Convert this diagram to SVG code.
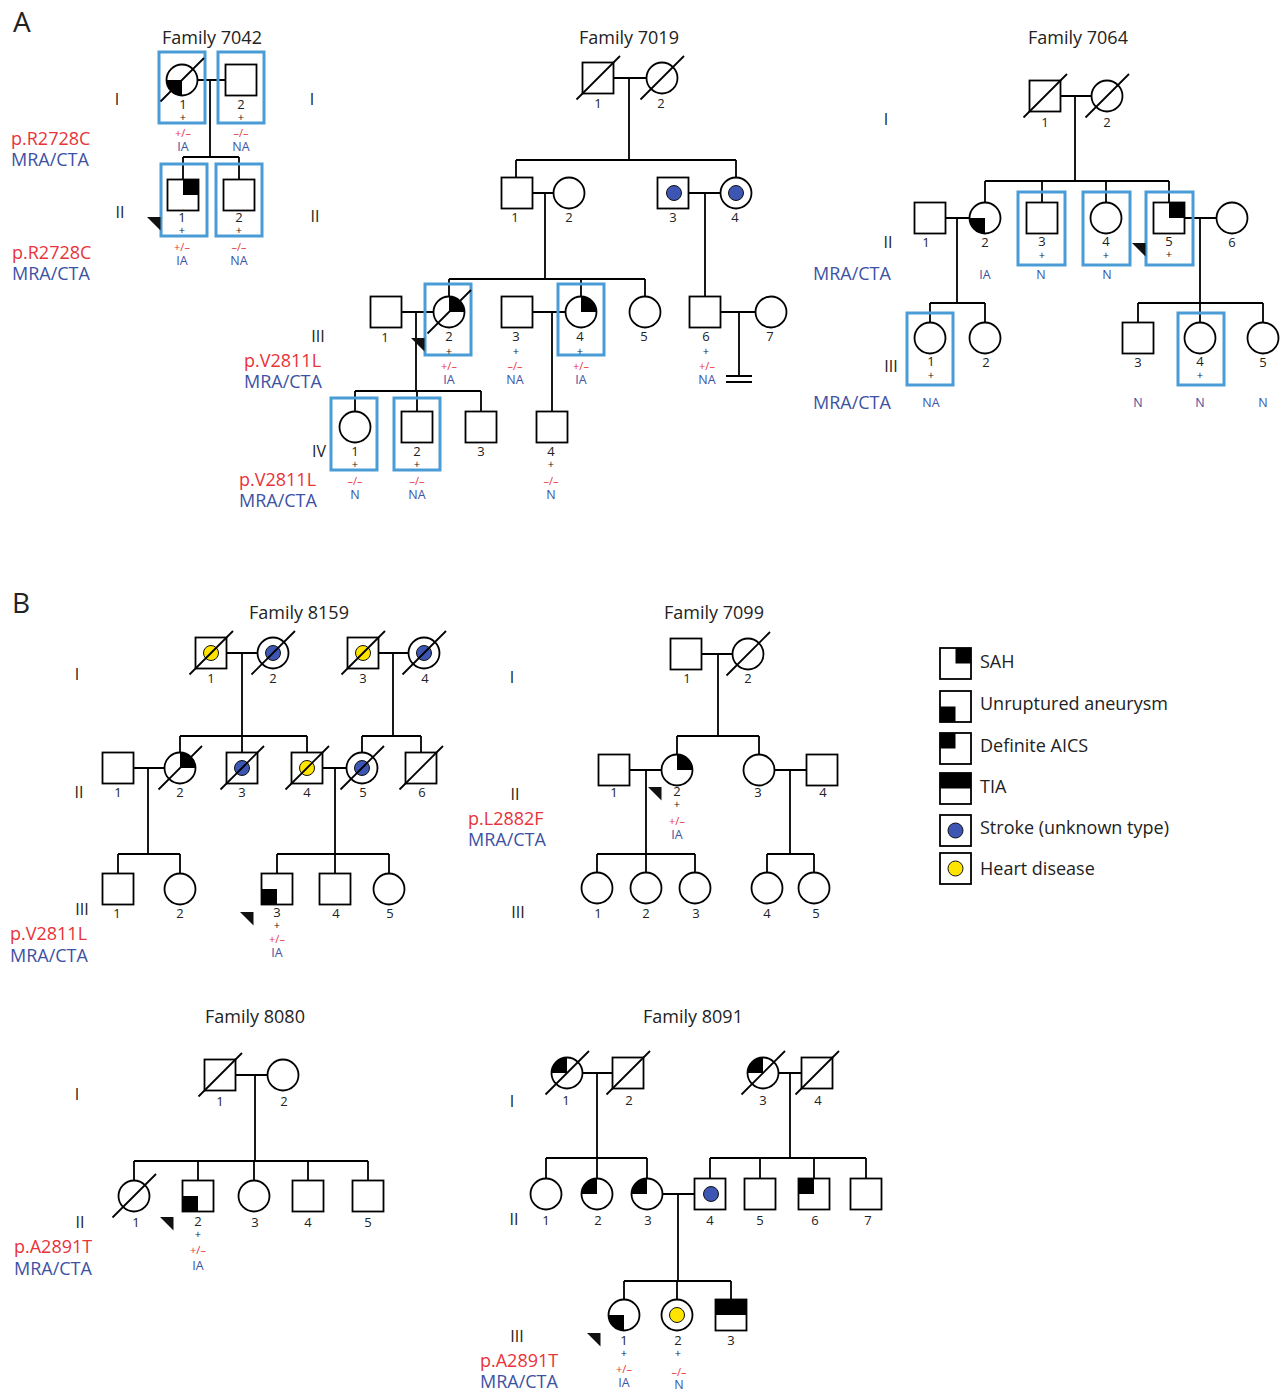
<svg xmlns="http://www.w3.org/2000/svg" xmlns:xlink="http://www.w3.org/1999/xlink" width="1280" height="1392" viewBox="0 0 1280 1392">
<style>
  text { font-family: "Open Sans", "Liberation Sans", sans-serif; fill: #222; }
  .sym { fill: #fff; stroke: #000; stroke-width: 1.8; }
  .blk { fill: #000; stroke: none; }
  .dec { stroke: #000; stroke-width: 1.8; fill: none; }
  .ln { stroke: #000; stroke-width: 1.8; fill: none; }
  .box { fill: none; stroke: #4a9cd6; stroke-width: 3; }
  .dotB { fill: #3d55b3; stroke: #111; stroke-width: 1; }
  .dotY { fill: #ffe400; stroke: #111; stroke-width: 1; }
  .arw { fill: #111; }
  .n { font-size: 13px; text-anchor: middle; }
  .p { font-size: 11px; text-anchor: middle; }
  .g { font-size: 11px; text-anchor: middle; fill: #e8333a; }
  .m { font-size: 12.5px; text-anchor: middle; fill: #3d52a3; }
  .gen { font-size: 16px; text-anchor: middle; fill: #222; }
  .ttl { font-size: 18px; text-anchor: middle; }
  .sr { font-size: 18px; fill: #e8333a; }
  .sb { font-size: 18px; fill: #3d52a3; }
  .pnl { font-size: 28px; }
  .lg { font-size: 18px; }
</style>
<defs>
  <rect id="sq" x="-15.5" y="-15.5" width="31" height="31" class="sym"/>
  <circle id="ci" r="15.5" class="sym"/>
  <!-- circle quadrants -->
  <path id="cUR" class="blk" d="M0,0 V-15.5 A15.5,15.5 0 0 1 15.5,0 Z"/>
  <path id="cLL" class="blk" d="M0,0 V15.5 A15.5,15.5 0 0 1 -15.5,0 Z"/>
  <path id="cUL" class="blk" d="M0,0 H-15.5 A15.5,15.5 0 0 1 0,-15.5 Z"/>
  <!-- square quadrants -->
  <rect id="sUR" class="blk" x="0" y="-15.5" width="15.5" height="15.5"/>
  <rect id="sLL" class="blk" x="-15.5" y="0" width="15.5" height="15.5"/>
  <rect id="sUL" class="blk" x="-15.5" y="-15.5" width="15.5" height="15.5"/>
  <rect id="sTop" class="blk" x="-15.5" y="-15.5" width="31" height="15.5"/>
  <!-- deceased slash -->
  <line id="dl" class="dec" x1="-21.5" y1="21.5" x2="22" y2="-22"/>
  <circle id="db" r="7.5" class="dotB"/>
  <circle id="dy" r="7.5" class="dotY"/>
  <!-- proband marker -->
  <polygon id="pb" class="arw" points="0,0 13.5,0 13.5,13.5"/>
</defs>

<!-- panel letters -->
<text class="pnl" x="13" y="32">A</text>
<text class="pnl" x="12" y="613">B</text>

<!-- ===================== connectors ===================== -->
<g id="connectors" class="ln">
  <!-- 7042 -->
  <path d="M197.5,80 H225.5 M210,80 V157 M183,157 H239 M183,157 V179.5 M239,157 V179.5"/>
  <!-- 7019 -->
  <path d="M613.5,78 H646.5 M629,78 V160 M516,160 H736 M516,160 V177.5 M736,160 V177.5"/>
  <path d="M532.5,193 H553.5 M545,193 V279 M688.5,193 H720.5 M705,193 V296.5"/>
  <path d="M449,279 H645 M449,279 V296.5 M581,279 V296.5 M645,279 V296.5"/>
  <path d="M401.5,312 H433.5 M416,312 V391 M355,391 H481 M355,391 V411.5 M417,391 V411.5 M481,391 V411.5"/>
  <path d="M532.5,312 H565.5 M552,312 V411.5"/>
  <path d="M720.5,312 H755.5 M739,312 V376 M726,376 H752 M726,382 H752"/>
  <!-- 7064 -->
  <path d="M1060.5,96 H1091.5 M1075,96 V181 M985,181 H1169 M985,181 V202.5 M1042,181 V202.5 M1106,181 V202.5 M1169,181 V202.5"/>
  <path d="M945.5,218 H969.5 M957,218 V303 M930,303 H985 M930,303 V322.5 M985,303 V322.5"/>
  <path d="M1184.5,218 H1216.5 M1200,218 V303 M1138,303 H1263 M1138,303 V322.5 M1200,303 V322.5 M1263,303 V322.5"/>
  <!-- 8159 -->
  <path d="M226.5,653 H257.5 M242,653 V736 M180,736 H307 M180,736 V752.5 M242,736 V752.5 M307,736 V752.5"/>
  <path d="M378.5,653 H408.5 M393,653 V736 M362,736 H421 M362,736 V752.5 M421,736 V752.5"/>
  <path d="M133.5,768 H164.5 M148,768 V854 M118,854 H180 M118,854 V873.5 M180,854 V873.5"/>
  <path d="M322.5,768 H346.5 M335,768 V854 M277,854 H389 M277,854 V873.5 M335,854 V873.5 M389,854 V873.5"/>
  <!-- 7099 -->
  <path d="M701.5,654 H732.5 M718,654 V736 M677,736 H759 M677,736 V754.5 M759,736 V754.5"/>
  <path d="M629.5,770 H661.5 M646,770 V854 M597,854 H695 M597,854 V872.5 M646,854 V872.5 M695,854 V872.5"/>
  <path d="M774.5,770 H806.5 M790,770 V854 M767,854 H814 M767,854 V872.5 M814,854 V872.5"/>
  <!-- 8080 -->
  <path d="M235.5,1075 H267.5 M255,1075 V1161 M134,1161 H368 M134,1161 V1180.5 M198,1161 V1180.5 M254,1161 V1180.5 M308,1161 V1180.5 M368,1161 V1180.5"/>
  <!-- 8091 -->
  <path d="M582.5,1073 H612.5 M597,1073 V1158 M546,1158 H647 M546,1158 V1178.5 M597,1158 V1178.5 M647,1158 V1178.5"/>
  <path d="M778.5,1073 H801.5 M790,1073 V1158 M710,1158 H866 M710,1158 V1178.5 M760,1158 V1178.5 M814,1158 V1178.5 M866,1158 V1178.5"/>
  <path d="M662.5,1194 H694.5 M678,1194 V1281 M624,1281 H731 M624,1281 V1299.5 M677,1281 V1299.5 M731,1281 V1299.5"/>
</g>

<!-- ===================== Family 7042 ===================== -->
<g id="fam7042">
  <text class="ttl" x="212" y="44">Family 7042</text>
  <text class="gen" x="117" y="105">I</text>
  <text class="gen" x="312" y="105">I</text>
  <text class="gen" x="120" y="218">II</text>
  <text class="gen" x="315" y="222">II</text>
  <text class="sr" x="11" y="145">p.R2728C</text>
  <text class="sb" x="11" y="166">MRA/CTA</text>
  <text class="sr" x="12" y="259">p.R2728C</text>
  <text class="sb" x="12" y="280">MRA/CTA</text>
  <g id="f7042-I-1">
    <rect class="box" x="159" y="52" width="46" height="71"/>
    <use href="#ci" x="182" y="80"/><use href="#cLL" x="182" y="80"/><use href="#dl" x="182" y="80"/>
    <text class="n" x="183" y="109">1</text><text class="p" x="183" y="121">+</text>
    <text class="g" x="183" y="137">+/–</text><text class="m" x="183" y="151">IA</text>
  </g>
  <g id="f7042-I-2">
    <rect class="box" x="218" y="52" width="46" height="71"/>
    <use href="#sq" x="241" y="80"/>
    <text class="n" x="241" y="109">2</text><text class="p" x="241" y="121">+</text>
    <text class="g" x="241" y="137">–/–</text><text class="m" x="241" y="151">NA</text>
  </g>
  <g id="f7042-II-1">
    <rect class="box" x="161" y="164" width="46" height="72"/>
    <use href="#sq" x="183" y="195"/><use href="#sUR" x="183" y="195"/>
    <text class="n" x="182" y="222">1</text><text class="p" x="182" y="234">+</text>
    <text class="g" x="182" y="251">+/–</text><text class="m" x="182" y="265">IA</text>
    <use href="#pb" x="147" y="217"/>
  </g>
  <g id="f7042-II-2">
    <rect class="box" x="216" y="164" width="46" height="72"/>
    <use href="#sq" x="239" y="195"/>
    <text class="n" x="239" y="222">2</text><text class="p" x="239" y="234">+</text>
    <text class="g" x="239" y="251">–/–</text><text class="m" x="239" y="265">NA</text>
  </g>
</g>

<!-- ===================== Family 7019 ===================== -->
<g id="fam7019">
  <text class="ttl" x="629" y="44">Family 7019</text>
  <text class="gen" x="318" y="342">III</text>
  <text class="gen" x="319" y="457">IV</text>
  <text class="sr" x="244" y="367">p.V2811L</text>
  <text class="sb" x="244" y="388">MRA/CTA</text>
  <text class="sr" x="239" y="486">p.V2811L</text>
  <text class="sb" x="239" y="507">MRA/CTA</text>
  <g id="f7019-I-1"><use href="#sq" x="598" y="78"/><use href="#dl" x="598" y="78"/><text class="n" x="598" y="108">1</text></g>
  <g id="f7019-I-2"><use href="#ci" x="662" y="78"/><use href="#dl" x="662" y="78"/><text class="n" x="661" y="108">2</text></g>
  <g id="f7019-II-1"><use href="#sq" x="517" y="193"/><text class="n" x="515" y="222">1</text></g>
  <g id="f7019-II-2"><use href="#ci" x="569" y="193"/><text class="n" x="569" y="222">2</text></g>
  <g id="f7019-II-3"><use href="#sq" x="673" y="193"/><use href="#db" x="674" y="193"/><text class="n" x="673" y="222">3</text></g>
  <g id="f7019-II-4"><use href="#ci" x="736" y="193"/><use href="#db" x="736" y="193"/><text class="n" x="735" y="222">4</text></g>
  <g id="f7019-III-1"><use href="#sq" x="386" y="312"/><text class="n" x="385" y="342">1</text></g>
  <g id="f7019-III-2">
    <rect class="box" x="425" y="284" width="46" height="71"/>
    <use href="#ci" x="449" y="312"/><use href="#cUR" x="449" y="312"/><use href="#dl" x="449" y="312"/>
    <text class="n" x="449" y="341">2</text><text class="p" x="449" y="355">+</text>
    <text class="g" x="449" y="370">+/–</text><text class="m" x="449" y="384">IA</text>
    <use href="#pb" x="411" y="338"/>
  </g>
  <g id="f7019-III-3">
    <use href="#sq" x="517" y="312"/>
    <text class="n" x="516" y="341">3</text><text class="p" x="516" y="355">+</text>
    <text class="g" x="515" y="370">–/–</text><text class="m" x="515" y="384">NA</text>
  </g>
  <g id="f7019-III-4">
    <rect class="box" x="558" y="284" width="46" height="71"/>
    <use href="#ci" x="581" y="312"/><use href="#cUR" x="581" y="312"/>
    <text class="n" x="580" y="341">4</text><text class="p" x="580" y="355">+</text>
    <text class="g" x="581" y="370">+/–</text><text class="m" x="581" y="384">IA</text>
  </g>
  <g id="f7019-III-5"><use href="#ci" x="645" y="312"/><text class="n" x="644" y="341">5</text></g>
  <g id="f7019-III-6">
    <use href="#sq" x="705" y="312"/>
    <text class="n" x="706" y="341">6</text><text class="p" x="706" y="355">+</text>
    <text class="g" x="707" y="370">+/–</text><text class="m" x="707" y="384">NA</text>
  </g>
  <g id="f7019-III-7"><use href="#ci" x="771" y="312"/><text class="n" x="770" y="341">7</text></g>
  <g id="f7019-IV-1">
    <rect class="box" x="331" y="398" width="46" height="72"/>
    <use href="#ci" x="355" y="427"/>
    <text class="n" x="355" y="456">1</text><text class="p" x="355" y="468">+</text>
    <text class="g" x="355" y="485">–/–</text><text class="m" x="355" y="499">N</text>
  </g>
  <g id="f7019-IV-2">
    <rect class="box" x="394" y="398" width="46" height="72"/>
    <use href="#sq" x="417" y="427"/>
    <text class="n" x="417" y="456">2</text><text class="p" x="417" y="468">+</text>
    <text class="g" x="417" y="485">–/–</text><text class="m" x="417" y="499">NA</text>
  </g>
  <g id="f7019-IV-3"><use href="#sq" x="481" y="427"/><text class="n" x="481" y="456">3</text></g>
  <g id="f7019-IV-4">
    <use href="#sq" x="552" y="427"/>
    <text class="n" x="551" y="456">4</text><text class="p" x="551" y="468">+</text>
    <text class="g" x="551" y="485">–/–</text><text class="m" x="551" y="499">N</text>
  </g>
</g>

<!-- ===================== Family 7064 ===================== -->
<g id="fam7064">
  <text class="ttl" x="1078" y="44">Family 7064</text>
  <text class="gen" x="886" y="125">I</text>
  <text class="gen" x="888" y="248">II</text>
  <text class="gen" x="891" y="372">III</text>
  <text class="sb" x="813" y="280">MRA/CTA</text>
  <text class="sb" x="813" y="409">MRA/CTA</text>
  <g id="f7064-I-1"><use href="#sq" x="1045" y="96"/><use href="#dl" x="1045" y="96"/><text class="n" x="1045" y="127">1</text></g>
  <g id="f7064-I-2"><use href="#ci" x="1107" y="96"/><use href="#dl" x="1107" y="96"/><text class="n" x="1107" y="127">2</text></g>
  <g id="f7064-II-1"><use href="#sq" x="930" y="218"/><text class="n" x="926" y="247">1</text></g>
  <g id="f7064-II-2">
    <use href="#ci" x="985" y="218"/><use href="#cLL" x="985" y="218"/>
    <text class="n" x="985" y="247">2</text><text class="m" x="985" y="279">IA</text>
  </g>
  <g id="f7064-II-3">
    <rect class="box" x="1018" y="192" width="47" height="73"/>
    <use href="#sq" x="1042" y="218"/>
    <text class="n" x="1042" y="246">3</text><text class="p" x="1042" y="259">+</text><text class="m" x="1041" y="279">N</text>
  </g>
  <g id="f7064-II-4">
    <rect class="box" x="1083" y="192" width="47" height="73"/>
    <use href="#ci" x="1106" y="218"/>
    <text class="n" x="1106" y="246">4</text><text class="p" x="1106" y="259">+</text><text class="m" x="1107" y="279">N</text>
  </g>
  <g id="f7064-II-5">
    <rect class="box" x="1146" y="192" width="47" height="73"/>
    <use href="#sq" x="1169" y="218"/><use href="#sUR" x="1169" y="218"/>
    <text class="n" x="1169" y="246">5</text><text class="p" x="1169" y="258">+</text>
    <use href="#pb" x="1132" y="243"/>
  </g>
  <g id="f7064-II-6"><use href="#ci" x="1232" y="218"/><text class="n" x="1232" y="247">6</text></g>
  <g id="f7064-III-1">
    <rect class="box" x="907" y="313" width="46" height="72"/>
    <use href="#ci" x="930" y="338"/>
    <text class="n" x="931" y="366">1</text><text class="p" x="931" y="379">+</text><text class="m" x="931" y="407">NA</text>
  </g>
  <g id="f7064-III-2"><use href="#ci" x="985" y="338"/><text class="n" x="986" y="367">2</text></g>
  <g id="f7064-III-3">
    <use href="#sq" x="1138" y="338"/><text class="n" x="1138" y="367">3</text><text class="m" x="1138" y="407">N</text>
  </g>
  <g id="f7064-III-4">
    <rect class="box" x="1178" y="313" width="46" height="72"/>
    <use href="#ci" x="1200" y="338"/>
    <text class="n" x="1200" y="366">4</text><text class="p" x="1200" y="379">+</text><text class="m" x="1200" y="407">N</text>
  </g>
  <g id="f7064-III-5">
    <use href="#ci" x="1263" y="338"/><text class="n" x="1263" y="367">5</text><text class="m" x="1263" y="407">N</text>
  </g>
</g>

<!-- ===================== Family 8159 ===================== -->
<g id="fam8159">
  <text class="ttl" x="299" y="619">Family 8159</text>
  <text class="gen" x="77" y="680">I</text>
  <text class="gen" x="79" y="798">II</text>
  <text class="gen" x="82" y="915">III</text>
  <text class="sr" x="10" y="940">p.V2811L</text>
  <text class="sb" x="10" y="962">MRA/CTA</text>
  <g id="f8159-I-1"><use href="#sq" x="211" y="653"/><use href="#dy" x="211" y="653"/><use href="#dl" x="211" y="653"/><text class="n" x="211" y="683">1</text></g>
  <g id="f8159-I-2"><use href="#ci" x="273" y="653"/><use href="#db" x="273" y="653"/><use href="#dl" x="273" y="653"/><text class="n" x="273" y="683">2</text></g>
  <g id="f8159-I-3"><use href="#sq" x="363" y="653"/><use href="#dy" x="363" y="653"/><use href="#dl" x="363" y="653"/><text class="n" x="363" y="683">3</text></g>
  <g id="f8159-I-4"><use href="#ci" x="424" y="653"/><use href="#db" x="424" y="653"/><use href="#dl" x="424" y="653"/><text class="n" x="425" y="683">4</text></g>
  <g id="f8159-II-1"><use href="#sq" x="118" y="768"/><text class="n" x="118" y="797">1</text></g>
  <g id="f8159-II-2"><use href="#ci" x="180" y="768"/><use href="#cUR" x="180" y="768"/><use href="#dl" x="180" y="768"/><text class="n" x="180" y="797">2</text></g>
  <g id="f8159-II-3"><use href="#sq" x="242" y="768"/><use href="#db" x="242" y="768"/><use href="#dl" x="242" y="768"/><text class="n" x="242" y="797">3</text></g>
  <g id="f8159-II-4"><use href="#sq" x="307" y="768"/><use href="#dy" x="307" y="768"/><use href="#dl" x="307" y="768"/><text class="n" x="307" y="797">4</text></g>
  <g id="f8159-II-5"><use href="#ci" x="362" y="768"/><use href="#db" x="362" y="768"/><use href="#dl" x="362" y="768"/><text class="n" x="363" y="797">5</text></g>
  <g id="f8159-II-6"><use href="#sq" x="421" y="768"/><use href="#dl" x="421" y="768"/><text class="n" x="422" y="797">6</text></g>
  <g id="f8159-III-1"><use href="#sq" x="118" y="889"/><text class="n" x="117" y="918">1</text></g>
  <g id="f8159-III-2"><use href="#ci" x="180" y="889"/><text class="n" x="180" y="918">2</text></g>
  <g id="f8159-III-3">
    <use href="#sq" x="277" y="889"/><use href="#sLL" x="277" y="889"/>
    <text class="n" x="277" y="917">3</text><text class="p" x="277" y="929">+</text>
    <text class="g" x="277" y="943">+/–</text><text class="m" x="277" y="957">IA</text>
    <use href="#pb" x="240" y="912"/>
  </g>
  <g id="f8159-III-4"><use href="#sq" x="335" y="889"/><text class="n" x="336" y="918">4</text></g>
  <g id="f8159-III-5"><use href="#ci" x="389" y="889"/><text class="n" x="390" y="918">5</text></g>
</g>

<!-- ===================== Family 7099 ===================== -->
<g id="fam7099">
  <text class="ttl" x="714" y="619">Family 7099</text>
  <text class="gen" x="512" y="683">I</text>
  <text class="gen" x="515" y="800">II</text>
  <text class="gen" x="518" y="918">III</text>
  <text class="sr" x="468" y="825">p.L2882F</text>
  <text class="sb" x="468" y="846">MRA/CTA</text>
  <g id="f7099-I-1"><use href="#sq" x="686" y="654"/><text class="n" x="687" y="683">1</text></g>
  <g id="f7099-I-2"><use href="#ci" x="748" y="654"/><use href="#dl" x="748" y="654"/><text class="n" x="748" y="683">2</text></g>
  <g id="f7099-II-1"><use href="#sq" x="614" y="770"/><text class="n" x="614" y="797">1</text></g>
  <g id="f7099-II-2">
    <use href="#ci" x="677" y="770"/><use href="#cUR" x="677" y="770"/>
    <text class="n" x="677" y="796">2</text><text class="p" x="677" y="808">+</text>
    <text class="g" x="677" y="825">+/–</text><text class="m" x="677" y="839">IA</text>
    <use href="#pb" x="648" y="787"/>
  </g>
  <g id="f7099-II-3"><use href="#ci" x="759" y="770"/><text class="n" x="758" y="797">3</text></g>
  <g id="f7099-II-4"><use href="#sq" x="822" y="770"/><text class="n" x="823" y="797">4</text></g>
  <g id="f7099-III-1"><use href="#ci" x="597" y="888"/><text class="n" x="598" y="918">1</text></g>
  <g id="f7099-III-2"><use href="#ci" x="646" y="888"/><text class="n" x="646" y="918">2</text></g>
  <g id="f7099-III-3"><use href="#ci" x="695" y="888"/><text class="n" x="696" y="918">3</text></g>
  <g id="f7099-III-4"><use href="#ci" x="767" y="888"/><text class="n" x="767" y="918">4</text></g>
  <g id="f7099-III-5"><use href="#ci" x="814" y="888"/><text class="n" x="816" y="918">5</text></g>
</g>

<!-- ===================== Legend ===================== -->
<g id="legend">
  <g id="lg-sah"><use href="#sq" x="955.5" y="663.5"/><use href="#sUR" x="955.5" y="663.5"/><text class="lg" x="980" y="668">SAH</text></g>
  <g id="lg-ua"><use href="#sq" x="955.5" y="706.5"/><use href="#sLL" x="955.5" y="706.5"/><text class="lg" x="980" y="710">Unruptured aneurysm</text></g>
  <g id="lg-aics"><use href="#sq" x="955.5" y="748.5"/><use href="#sUL" x="955.5" y="748.5"/><text class="lg" x="980" y="752">Definite AICS</text></g>
  <g id="lg-tia"><use href="#sq" x="955.5" y="788.5"/><use href="#sTop" x="955.5" y="788.5"/><text class="lg" x="980" y="793">TIA</text></g>
  <g id="lg-stroke"><use href="#sq" x="955.5" y="830.5"/><use href="#db" x="955.5" y="830.5"/><text class="lg" x="980" y="834">Stroke (unknown type)</text></g>
  <g id="lg-heart"><use href="#sq" x="955.5" y="868.5"/><use href="#dy" x="955.5" y="868.5"/><text class="lg" x="980" y="875">Heart disease</text></g>
</g>

<!-- ===================== Family 8080 ===================== -->
<g id="fam8080">
  <text class="ttl" x="255" y="1023">Family 8080</text>
  <text class="gen" x="77" y="1100">I</text>
  <text class="gen" x="80" y="1228">II</text>
  <text class="sr" x="14" y="1253">p.A2891T</text>
  <text class="sb" x="14" y="1275">MRA/CTA</text>
  <g id="f8080-I-1"><use href="#sq" x="220" y="1075"/><use href="#dl" x="220" y="1075"/><text class="n" x="220" y="1106">1</text></g>
  <g id="f8080-I-2"><use href="#ci" x="283" y="1075"/><text class="n" x="284" y="1106">2</text></g>
  <g id="f8080-II-1"><use href="#ci" x="134" y="1196"/><use href="#dl" x="134" y="1196"/><text class="n" x="136" y="1227">1</text></g>
  <g id="f8080-II-2">
    <use href="#sq" x="198" y="1196"/><use href="#sLL" x="198" y="1196"/>
    <text class="n" x="198" y="1226">2</text><text class="p" x="198" y="1238">+</text>
    <text class="g" x="198" y="1254">+/–</text><text class="m" x="198" y="1270">IA</text>
    <use href="#pb" x="160" y="1217"/>
  </g>
  <g id="f8080-II-3"><use href="#ci" x="254" y="1196"/><text class="n" x="255" y="1227">3</text></g>
  <g id="f8080-II-4"><use href="#sq" x="308" y="1196"/><text class="n" x="308" y="1227">4</text></g>
  <g id="f8080-II-5"><use href="#sq" x="368" y="1196"/><text class="n" x="368" y="1227">5</text></g>
</g>

<!-- ===================== Family 8091 ===================== -->
<g id="fam8091">
  <text class="ttl" x="693" y="1023">Family 8091</text>
  <text class="gen" x="512" y="1107">I</text>
  <text class="gen" x="514" y="1225">II</text>
  <text class="gen" x="517" y="1342">III</text>
  <text class="sr" x="480" y="1367">p.A2891T</text>
  <text class="sb" x="480" y="1388">MRA/CTA</text>
  <g id="f8091-I-1"><use href="#ci" x="567" y="1073"/><use href="#cUL" x="567" y="1073"/><use href="#dl" x="567" y="1073"/><text class="n" x="566" y="1105">1</text></g>
  <g id="f8091-I-2"><use href="#sq" x="628" y="1073"/><use href="#dl" x="628" y="1073"/><text class="n" x="629" y="1105">2</text></g>
  <g id="f8091-I-3"><use href="#ci" x="763" y="1073"/><use href="#cUL" x="763" y="1073"/><use href="#dl" x="763" y="1073"/><text class="n" x="763" y="1105">3</text></g>
  <g id="f8091-I-4"><use href="#sq" x="817" y="1073"/><use href="#dl" x="817" y="1073"/><text class="n" x="818" y="1105">4</text></g>
  <g id="f8091-II-1"><use href="#ci" x="546" y="1194"/><text class="n" x="546" y="1225">1</text></g>
  <g id="f8091-II-2"><use href="#ci" x="597" y="1194"/><use href="#cUL" x="597" y="1194"/><text class="n" x="598" y="1225">2</text></g>
  <g id="f8091-II-3"><use href="#ci" x="647" y="1194"/><use href="#cUL" x="647" y="1194"/><text class="n" x="648" y="1225">3</text></g>
  <g id="f8091-II-4"><use href="#sq" x="710" y="1194"/><use href="#db" x="711" y="1194"/><text class="n" x="710" y="1225">4</text></g>
  <g id="f8091-II-5"><use href="#sq" x="760" y="1194"/><text class="n" x="760" y="1225">5</text></g>
  <g id="f8091-II-6"><use href="#sq" x="814" y="1194"/><use href="#sUL" x="814" y="1194"/><text class="n" x="815" y="1225">6</text></g>
  <g id="f8091-II-7"><use href="#sq" x="866" y="1194"/><text class="n" x="868" y="1225">7</text></g>
  <g id="f8091-III-1">
    <use href="#ci" x="624" y="1315"/><use href="#cLL" x="624" y="1315"/>
    <text class="n" x="624" y="1345">1</text><text class="p" x="624" y="1357">+</text>
    <text class="g" x="624" y="1373">+/–</text><text class="m" x="624" y="1387">IA</text>
    <use href="#pb" x="587" y="1333"/>
  </g>
  <g id="f8091-III-2">
    <use href="#ci" x="677" y="1315"/><use href="#dy" x="677" y="1315"/>
    <text class="n" x="678" y="1345">2</text><text class="p" x="678" y="1357">+</text>
    <text class="g" x="679" y="1376">–/–</text><text class="m" x="679" y="1389">N</text>
  </g>
  <g id="f8091-III-3"><use href="#sq" x="731" y="1315"/><use href="#sTop" x="731" y="1315"/><text class="n" x="731" y="1345">3</text></g>
</g>
</svg>
